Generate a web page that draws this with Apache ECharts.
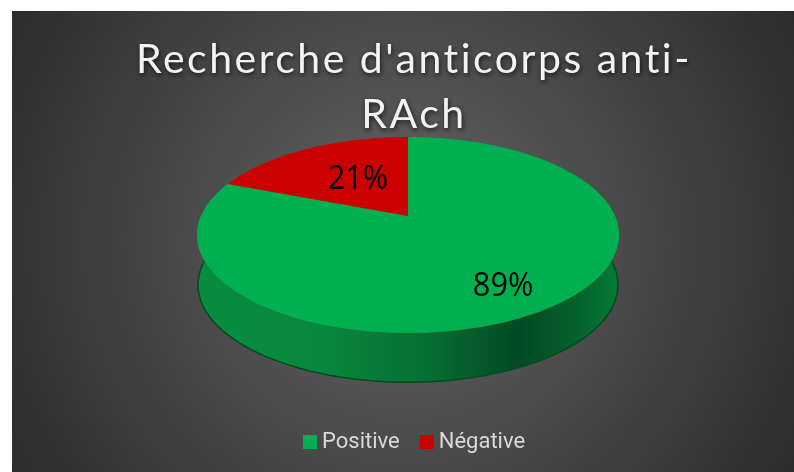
<!DOCTYPE html>
<html>
<head>
<meta charset="utf-8">
<style>html,body{margin:0;padding:0;background:#fff}#c{width:794px;height:472px}</style>
<script src="https://cdn.jsdelivr.net/npm/echarts@6/dist/echarts.min.js"></script>
</head>
<body>
<div id="c"></div>
<script>
const titleText = "Recherche d'anticorps anti-\nRAch";
const categories = ['Positive', 'Négative'];
const values = [89, 21];
const colors = ['#00b050', '#cb0000'];

// letter spacing for the title (canvas text style only)
const nativeFillText = CanvasRenderingContext2D.prototype.fillText;
CanvasRenderingContext2D.prototype.fillText = function (s, x, y, m) {
  this.letterSpacing = (this.font || '').indexOf('41px') >= 0 ? '2.5px' : '0px';
  return m === undefined ? nativeFillText.call(this, s, x, y) : nativeFillText.call(this, s, x, y, m);
};

const total = values.reduce((a, b) => a + b, 0);
// perspective disc
const CX = 408, CY = 216, A = 207, B = 94.3, K = 0.194;
function project(theta, r, dy) {
  const u = Math.sin(theta) * r, v = Math.cos(theta) * r, w = 1 + K * v;
  return [CX + A * u / w, CY - B * v / w + (dy || 0)];
}
function arc(t0, t1, dy, r) {
  const n = Math.max(2, Math.ceil(Math.abs(t1 - t0) / 0.015)), pts = [];
  for (let i = 0; i <= n; i++) pts.push(project(t0 + (t1 - t0) * i / n, r || 1, dy));
  return pts;
}
const labelRadius = [0.72, 0.47];
const labelShift = [[0, 7], [1, -2]];
function renderItem(params, api) {
  const idx = params.seriesIndex;
  const before = values.slice(0, idx).reduce((a, b) => a + b, 0);
  const t0 = before / total * Math.PI * 2;
  const t1 = (before + api.value(0)) / total * Math.PI * 2;
  const children = [];
  if (idx === 0) {
    const wallTop = arc(1.0, 5.28, 0);
    const wallBottom = arc(5.28, 1.0, 50, 0.995);
    children.push({
      type: 'polygon',
      shape: { points: wallTop.concat(wallBottom) },
      style: {
        fill: new echarts.graphic.LinearGradient(0, 0, 1, 0, [
          { offset: 0, color: '#078d41' },
          { offset: 0.3, color: '#07873d' },
          { offset: 0.55, color: '#066f33' },
          { offset: 0.76, color: '#034a22' },
          { offset: 0.9, color: '#04622c' },
          { offset: 1, color: '#067a37' }
        ])
      }
    });
    children.push({
      type: 'polyline',
      shape: { points: wallBottom },
      style: { fill: null, stroke: '#044a22', lineWidth: 1.5 }
    });
  }
  children.push({
    type: 'polygon',
    shape: { points: [[CX, CY]].concat(arc(t0, t1, 0)) },
    style: { fill: api.visual('color') }
  });
  const mid = (t0 + t1) / 2;
  const p = project(mid, labelRadius[idx], 0);
  children.push({
    type: 'text', z2: 10, x: p[0] + labelShift[idx][0], y: p[1] + labelShift[idx][1], scaleX: 0.93,
    style: {
      text: api.value(0) + '%', x: 0, y: 0,
      align: 'center', verticalAlign: 'middle',
      font: '33px "Open Sans"', fill: '#000'
    }
  });
  return { type: 'group', children };
}
const chart = echarts.init(document.getElementById('c'), null, { renderer: 'canvas' });
chart.setOption({
  animation: false,
  backgroundColor: '#ffffff',
  graphic: [{
    type: 'rect', z: -10, silent: true,
    shape: { x: 12, y: 11, width: 782, height: 461 },
    style: {
      fill: new echarts.graphic.RadialGradient(403, 241, 470, [
        { offset: 0, color: '#656565' },
        { offset: 1, color: '#2a2a2a' }
      ], true)
    }
  }],
  title: {
    text: titleText, left: 409, top: 27, textAlign: 'center',
    textStyle: {
      color: '#f2f2f2', fontFamily: 'Lato', fontWeight: 'normal', fontSize: 41, lineHeight: 55,
      textShadowColor: 'rgba(0,0,0,0.7)', textShadowBlur: 5, textShadowOffsetX: 1, textShadowOffsetY: 2
    }
  },
  legend: {
    data: categories, left: 298, top: 426, icon: 'rect', itemWidth: 14, itemHeight: 14, itemGap: 20,
    textStyle: { color: '#d9d9d9', fontFamily: 'Roboto', fontSize: 22, padding: [0, 0, 0, 0] }
  },
  series: categories.map((name, i) => ({
    type: 'custom', name, coordinateSystem: 'none', renderItem,
    itemStyle: { color: colors[i] },
    data: [[values[i]]]
  }))
});
</script>
</body>
</html>
